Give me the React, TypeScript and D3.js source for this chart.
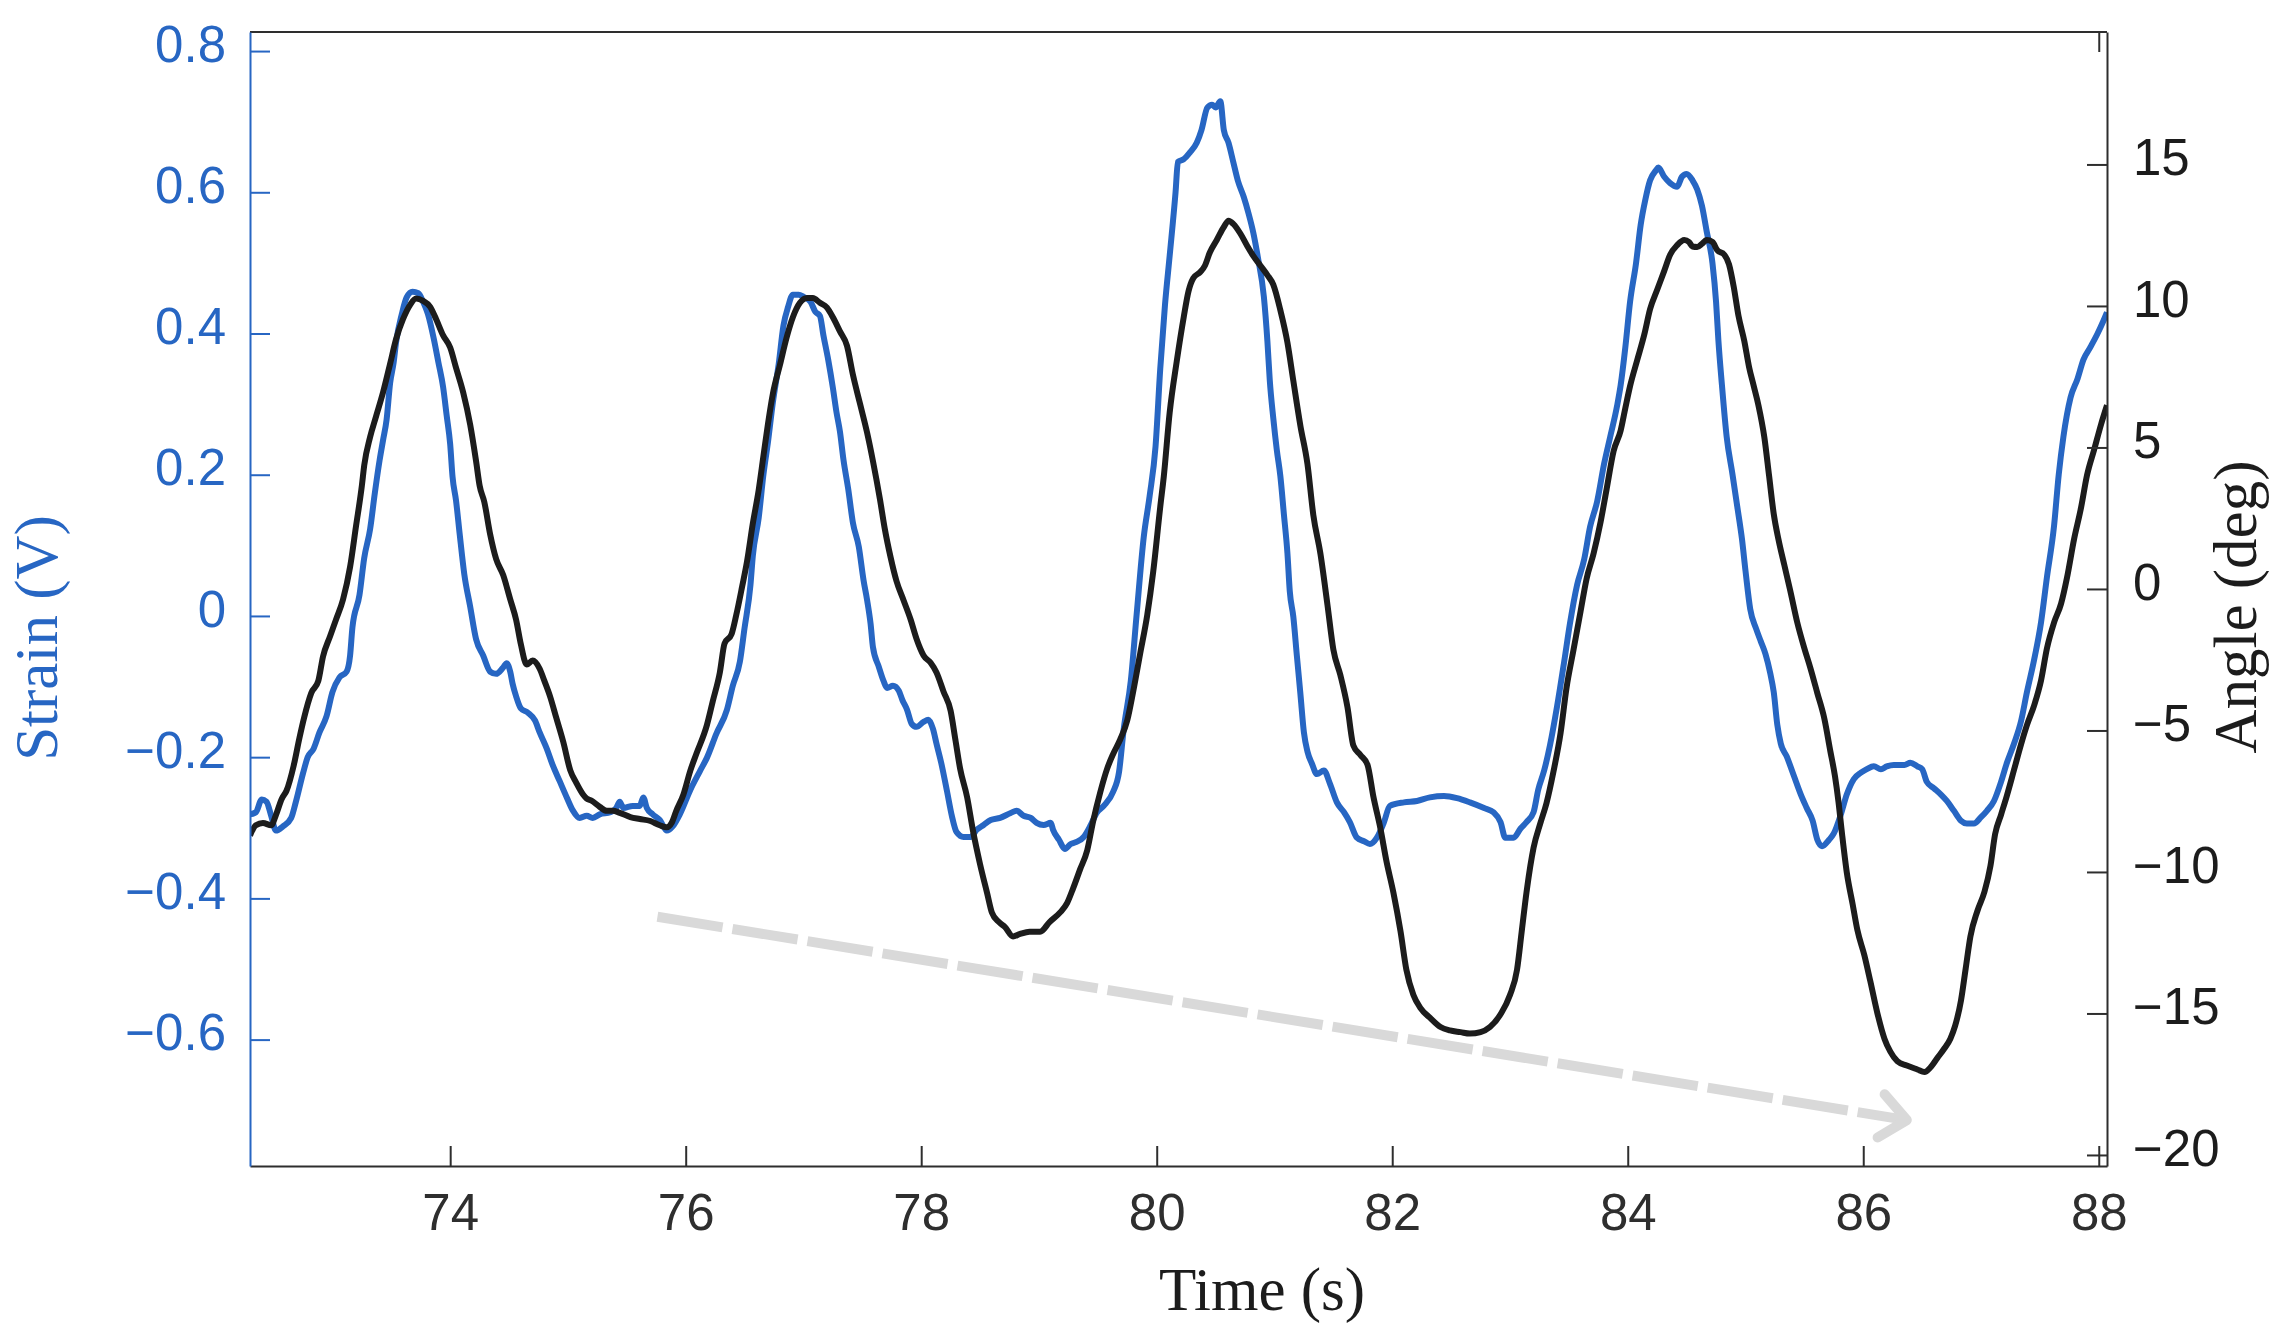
import { useEffect, useRef } from 'react'
import * as d3 from 'd3'

// strain gauge output (V) against time (s)
const strainTrace: [number, number][] = [
  [72.30, -0.281], [72.35, -0.278], [72.40, -0.260], [72.44, -0.263], [72.48, -0.283],
  [72.52, -0.304], [72.58, -0.298], [72.65, -0.286], [72.69, -0.263], [72.75, -0.223],
  [72.79, -0.200], [72.84, -0.188], [72.89, -0.165], [72.95, -0.142], [73.00, -0.108],
  [73.06, -0.087], [73.12, -0.079], [73.15, -0.056], [73.17, -0.016], [73.23, 0.030],
  [73.27, 0.082], [73.32, 0.123], [73.36, 0.174], [73.40, 0.220], [73.43, 0.249],
  [73.46, 0.278], [73.49, 0.330], [73.52, 0.359], [73.54, 0.387], [73.59, 0.428],
  [73.63, 0.451], [73.68, 0.459], [73.73, 0.457], [73.77, 0.445], [73.81, 0.428],
  [73.86, 0.393], [73.90, 0.359], [73.94, 0.324], [73.97, 0.284], [74.00, 0.243],
  [74.02, 0.197], [74.05, 0.163], [74.08, 0.117], [74.12, 0.059], [74.17, 0.013],
  [74.22, -0.033], [74.28, -0.056], [74.34, -0.079], [74.39, -0.082], [74.45, -0.073],
  [74.48, -0.067], [74.51, -0.079], [74.53, -0.096], [74.56, -0.114], [74.60, -0.131],
  [74.66, -0.137], [74.72, -0.148], [74.76, -0.165], [74.82, -0.188], [74.87, -0.211],
  [74.93, -0.234], [74.99, -0.257], [75.04, -0.275], [75.10, -0.286], [75.16, -0.283],
  [75.21, -0.286], [75.27, -0.281], [75.36, -0.278], [75.41, -0.272], [75.44, -0.263],
  [75.47, -0.272], [75.55, -0.269], [75.61, -0.269], [75.64, -0.257], [75.67, -0.272],
  [75.72, -0.281], [75.78, -0.289], [75.84, -0.304], [75.89, -0.298], [75.95, -0.281],
  [76.04, -0.246], [76.12, -0.220], [76.18, -0.201], [76.26, -0.167], [76.35, -0.133],
  [76.40, -0.099], [76.46, -0.065], [76.50, -0.017], [76.55, 0.044], [76.57, 0.085],
  [76.62, 0.139], [76.66, 0.200], [76.70, 0.248], [76.74, 0.302], [76.79, 0.357],
  [76.83, 0.411], [76.87, 0.438], [76.91, 0.455], [76.96, 0.455], [77.00, 0.452],
  [77.06, 0.445], [77.10, 0.431], [77.14, 0.425], [77.17, 0.397], [77.21, 0.363],
  [77.25, 0.323], [77.28, 0.289], [77.31, 0.261], [77.34, 0.221], [77.38, 0.180],
  [77.42, 0.132], [77.47, 0.098], [77.51, 0.051], [77.54, 0.023], [77.57, -0.011],
  [77.59, -0.044], [77.64, -0.072], [77.68, -0.092], [77.71, -0.102], [77.76, -0.099],
  [77.81, -0.106], [77.84, -0.119], [77.88, -0.133], [77.92, -0.153], [77.96, -0.157],
  [78.02, -0.150], [78.06, -0.147], [78.10, -0.160], [78.13, -0.181], [78.17, -0.208],
  [78.22, -0.249], [78.26, -0.283], [78.30, -0.306], [78.36, -0.313], [78.42, -0.313],
  [78.47, -0.303], [78.53, -0.296], [78.59, -0.289], [78.67, -0.286], [78.76, -0.279],
  [78.81, -0.276], [78.87, -0.283], [78.93, -0.286], [78.98, -0.293], [79.04, -0.296],
  [79.10, -0.293], [79.12, -0.303], [79.17, -0.317], [79.22, -0.330], [79.27, -0.323],
  [79.32, -0.320], [79.38, -0.313], [79.44, -0.296], [79.49, -0.279], [79.55, -0.269],
  [79.63, -0.249], [79.68, -0.221], [79.72, -0.160], [79.78, -0.092], [79.83, 0.003],
  [79.89, 0.112], [79.94, 0.170], [79.99, 0.240], [80.03, 0.350], [80.07, 0.440],
  [80.11, 0.510], [80.16, 0.600], [80.18, 0.643], [80.23, 0.647], [80.28, 0.656],
  [80.34, 0.670], [80.38, 0.688], [80.43, 0.720], [80.47, 0.724], [80.50, 0.720],
  [80.54, 0.729], [80.57, 0.688], [80.61, 0.670], [80.65, 0.643], [80.69, 0.616],
  [80.74, 0.593], [80.78, 0.570], [80.82, 0.543], [80.86, 0.507], [80.91, 0.452],
  [80.94, 0.389], [80.96, 0.334], [80.99, 0.280], [81.02, 0.235], [81.05, 0.198],
  [81.08, 0.144], [81.11, 0.089], [81.13, 0.035], [81.16, -0.001], [81.19, -0.056],
  [81.22, -0.110], [81.25, -0.165], [81.28, -0.192], [81.32, -0.210], [81.36, -0.224],
  [81.42, -0.219], [81.47, -0.237], [81.53, -0.264], [81.59, -0.278], [81.64, -0.292],
  [81.70, -0.314], [81.76, -0.319], [81.81, -0.323], [81.87, -0.314], [81.93, -0.292],
  [81.98, -0.269], [82.10, -0.264], [82.21, -0.262], [82.32, -0.257], [82.44, -0.255],
  [82.55, -0.258], [82.66, -0.264], [82.78, -0.272], [82.86, -0.278], [82.92, -0.292],
  [82.96, -0.314], [83.03, -0.314], [83.09, -0.301], [83.14, -0.292], [83.20, -0.278],
  [83.24, -0.246], [83.29, -0.219], [83.34, -0.183], [83.40, -0.128], [83.46, -0.065],
  [83.51, -0.010], [83.57, 0.044], [83.63, 0.080], [83.68, 0.126], [83.74, 0.162],
  [83.80, 0.216], [83.85, 0.253], [83.91, 0.298], [83.94, 0.327], [83.98, 0.381],
  [84.02, 0.445], [84.07, 0.499], [84.11, 0.554], [84.15, 0.590], [84.19, 0.617],
  [84.24, 0.631], [84.26, 0.635], [84.31, 0.622], [84.36, 0.613], [84.42, 0.608],
  [84.46, 0.622], [84.50, 0.626], [84.55, 0.617], [84.59, 0.604], [84.63, 0.581],
  [84.67, 0.545], [84.72, 0.499], [84.75, 0.445], [84.77, 0.390], [84.80, 0.327],
  [84.84, 0.254], [84.89, 0.200], [84.93, 0.155], [84.97, 0.109], [85.00, 0.064],
  [85.04, 0.010], [85.09, -0.018], [85.13, -0.036], [85.17, -0.054], [85.21, -0.081],
  [85.24, -0.108], [85.27, -0.154], [85.30, -0.181], [85.35, -0.199], [85.41, -0.226],
  [85.47, -0.253], [85.52, -0.272], [85.57, -0.290], [85.61, -0.317], [85.65, -0.326],
  [85.71, -0.317], [85.75, -0.308], [85.81, -0.281], [85.86, -0.253], [85.92, -0.231],
  [85.98, -0.222], [86.03, -0.217], [86.09, -0.213], [86.15, -0.217], [86.20, -0.213],
  [86.26, -0.211], [86.35, -0.211], [86.40, -0.208], [86.46, -0.213], [86.50, -0.217],
  [86.54, -0.235], [86.60, -0.244], [86.66, -0.253], [86.71, -0.262], [86.77, -0.276],
  [86.83, -0.290], [86.88, -0.294], [86.94, -0.294], [87.00, -0.285], [87.05, -0.276],
  [87.11, -0.262], [87.17, -0.235], [87.22, -0.208], [87.28, -0.181], [87.34, -0.149],
  [87.39, -0.108], [87.45, -0.063], [87.51, -0.009], [87.56, 0.055], [87.62, 0.127],
  [87.66, 0.200], [87.70, 0.254], [87.76, 0.309], [87.82, 0.336], [87.87, 0.363],
  [87.93, 0.381], [87.99, 0.400], [88.04, 0.418], [88.07, 0.430],
]

// joint angle (deg) against time (s)
const angleTrace: [number, number][] = [
  [72.30, -8.71], [72.35, -8.35], [72.41, -8.27], [72.48, -8.35], [72.52, -7.99],
  [72.57, -7.41], [72.61, -7.13], [72.67, -6.26], [72.72, -5.26], [72.76, -4.54],
  [72.82, -3.68], [72.88, -3.25], [72.92, -2.39], [72.98, -1.67], [73.03, -1.09],
  [73.09, -0.37], [73.15, 0.78], [73.20, 2.21], [73.25, 3.65], [73.27, 4.37],
  [73.32, 5.37], [73.37, 6.09], [73.43, 6.95], [73.49, 7.96], [73.54, 8.82],
  [73.60, 9.54], [73.66, 10.04], [73.71, 10.26], [73.77, 10.18], [73.83, 9.97],
  [73.88, 9.54], [73.94, 8.96], [74.00, 8.53], [74.05, 7.81], [74.11, 6.95],
  [74.17, 5.80], [74.22, 4.51], [74.25, 3.65], [74.29, 3.07], [74.34, 1.92],
  [74.39, 1.06], [74.45, 0.49], [74.51, -0.37], [74.56, -1.09], [74.60, -1.95],
  [74.65, -2.67], [74.70, -2.53], [74.76, -2.82], [74.80, -3.25], [74.85, -3.82],
  [74.90, -4.54], [74.96, -5.40], [75.02, -6.41], [75.07, -6.84], [75.13, -7.27],
  [75.16, -7.41], [75.20, -7.48], [75.27, -7.70], [75.33, -7.84], [75.38, -7.84],
  [75.44, -7.91], [75.53, -8.06], [75.61, -8.13], [75.70, -8.20], [75.78, -8.35],
  [75.84, -8.42], [75.88, -8.27], [75.92, -7.84], [75.98, -7.27], [76.04, -6.41],
  [76.09, -5.83], [76.18, -4.81], [76.23, -3.97], [76.29, -2.95], [76.33, -1.93],
  [76.39, -1.59], [76.43, -0.91], [76.48, 0.10], [76.52, 0.95], [76.57, 2.31],
  [76.62, 3.50], [76.66, 4.69], [76.70, 5.87], [76.74, 6.89], [76.80, 7.91],
  [76.86, 8.93], [76.91, 9.60], [76.97, 10.11], [77.03, 10.28], [77.08, 10.28],
  [77.14, 10.11], [77.20, 9.94], [77.25, 9.60], [77.31, 9.10], [77.37, 8.59],
  [77.42, 7.57], [77.48, 6.55], [77.54, 5.53], [77.59, 4.52], [77.65, 3.16],
  [77.69, 2.14], [77.74, 1.12], [77.79, 0.28], [77.85, -0.40], [77.91, -1.08],
  [77.96, -1.76], [78.02, -2.35], [78.08, -2.61], [78.13, -2.95], [78.19, -3.63],
  [78.25, -4.31], [78.29, -5.32], [78.33, -6.34], [78.39, -7.36], [78.44, -8.55],
  [78.50, -9.73], [78.56, -10.75], [78.60, -11.43], [78.66, -11.77], [78.71, -11.94],
  [78.78, -12.28], [78.84, -12.19], [78.92, -12.11], [79.01, -12.11], [79.09, -11.77],
  [79.18, -11.43], [79.24, -11.09], [79.29, -10.58], [79.35, -9.90], [79.41, -9.23],
  [79.46, -8.21], [79.52, -7.19], [79.58, -6.34], [79.63, -5.83], [79.69, -5.32],
  [79.75, -4.64], [79.80, -3.63], [79.86, -2.27], [79.92, -0.91], [79.97, 0.60],
  [80.03, 2.90], [80.06, 3.97], [80.11, 6.23], [80.17, 8.04], [80.23, 9.62],
  [80.27, 10.52], [80.31, 10.98], [80.37, 11.20], [80.41, 11.43], [80.45, 11.88],
  [80.51, 12.33], [80.57, 12.79], [80.61, 13.01], [80.65, 12.90], [80.71, 12.56],
  [80.77, 12.11], [80.82, 11.77], [80.88, 11.43], [80.94, 11.09], [80.99, 10.75],
  [81.05, 9.85], [81.11, 8.71], [81.16, 7.36], [81.22, 5.77], [81.28, 4.42],
  [81.33, 2.61], [81.39, 1.25], [81.45, -0.56], [81.50, -2.14], [81.56, -3.05],
  [81.62, -4.18], [81.67, -5.53], [81.73, -5.87], [81.79, -6.21], [81.84, -7.34],
  [81.90, -8.47], [81.95, -9.60], [82.01, -10.73], [82.07, -12.09], [82.12, -13.45],
  [82.18, -14.35], [82.24, -14.81], [82.32, -15.15], [82.41, -15.48], [82.49, -15.60],
  [82.58, -15.66], [82.66, -15.71], [82.75, -15.66], [82.83, -15.48], [82.92, -15.03],
  [83.00, -14.35], [83.06, -13.45], [83.10, -12.09], [83.14, -10.73], [83.20, -9.15],
  [83.26, -8.25], [83.31, -7.57], [83.37, -6.44], [83.43, -5.08], [83.48, -3.50],
  [83.54, -2.14], [83.60, -0.78], [83.65, 0.35], [83.71, 1.25], [83.77, 2.38],
  [83.82, 3.51], [83.88, 4.87], [83.94, 5.60], [83.98, 6.40], [84.02, 7.17],
  [84.08, 8.08], [84.14, 8.98], [84.19, 9.89], [84.25, 10.57], [84.31, 11.24],
  [84.36, 11.81], [84.42, 12.15], [84.48, 12.33], [84.52, 12.26], [84.55, 12.10],
  [84.59, 12.08], [84.63, 12.19], [84.67, 12.33], [84.72, 12.26], [84.76, 11.97],
  [84.82, 11.81], [84.86, 11.47], [84.90, 10.68], [84.94, 9.66], [84.99, 8.76],
  [85.03, 7.85], [85.07, 7.17], [85.11, 6.49], [85.16, 5.36], [85.20, 4.01],
  [85.24, 2.65], [85.28, 1.75], [85.33, 0.84], [85.38, -0.06], [85.44, -1.19],
  [85.50, -2.10], [85.55, -2.78], [85.61, -3.68], [85.67, -4.59], [85.72, -5.72],
  [85.76, -6.62], [85.79, -7.53], [85.82, -8.66], [85.86, -10.01], [85.91, -11.14],
  [85.95, -12.05], [86.01, -12.95], [86.06, -13.86], [86.12, -14.99], [86.18, -15.89],
  [86.23, -16.35], [86.29, -16.69], [86.37, -16.84], [86.46, -16.98], [86.52, -17.07],
  [86.57, -16.91], [86.63, -16.57], [86.69, -16.23], [86.74, -15.89], [86.78, -15.44],
  [86.83, -14.54], [86.87, -13.41], [86.91, -12.28], [86.97, -11.37], [87.03, -10.69],
  [87.08, -9.79], [87.12, -8.66], [87.17, -7.98], [87.22, -7.30], [87.28, -6.40],
  [87.34, -5.49], [87.39, -4.81], [87.45, -4.13], [87.51, -3.23], [87.56, -2.10],
  [87.62, -1.19], [87.68, -0.52], [87.73, 0.39], [87.79, 1.75], [87.85, 2.88],
  [87.90, 4.01], [87.96, 4.91], [88.02, 5.82], [88.07, 6.49],
]

const timeTicks = [74, 76, 78, 80, 82, 84, 86, 88]
const strainTicks = [-0.6, -0.4, -0.2, 0, 0.2, 0.4, 0.6, 0.8]
const angleTicks = [-20, -15, -10, -5, 0, 5, 10, 15]

const timeRange: [number, number] = [72.3, 88.07]
const strainRange: [number, number] = [-0.779, 0.827]
const angleRange: [number, number] = [-20.39, 19.68]

// growing trough depth, drawn in (time, strain) units
const trendArrow = { from: [75.76, -0.426], to: [86.37, -0.714] }

const width = 2293
const height = 1339
const margin = { top: 32, right: 186, bottom: 173, left: 250 }

const blue = '#2766c3'
const ink = '#1c1c1c'
const axisGrey = '#2e2e2e'
const sans = '"Liberation Sans", Arial, Helvetica, sans-serif'
const serif = '"Liberation Serif", "Times New Roman", serif'

const signed = (d: number) => (d < 0 ? '\u2212' + Math.abs(d) : String(d))

export default function App() {
  const svgRef = useRef<SVGSVGElement>(null)

  useEffect(() => {
    if (!svgRef.current) return

    const svg = d3.select(svgRef.current)
    svg.selectAll('*').remove()

    const innerWidth = width - margin.left - margin.right
    const innerHeight = height - margin.top - margin.bottom

    const x = d3.scaleLinear().domain(timeRange).range([0, innerWidth])
    const yStrain = d3.scaleLinear().domain(strainRange).range([innerHeight, 0])
    const yAngle = d3.scaleLinear().domain(angleRange).range([innerHeight, 0])

    const g = svg.append('g')
      .attr('transform', `translate(${margin.left},${margin.top})`)

    g.append('clipPath')
      .attr('id', 'plot-area')
      .append('rect')
      .attr('width', innerWidth)
      .attr('height', innerHeight)

    // dashed trend arrow
    const [ax0, ay0] = [x(trendArrow.from[0]), yStrain(trendArrow.from[1])]
    const [ax1, ay1] = [x(trendArrow.to[0]), yStrain(trendArrow.to[1])]
    g.append('line')
      .attr('x1', ax0).attr('y1', ay0)
      .attr('x2', ax1).attr('y2', ay1)
      .attr('stroke', '#d9d9d9')
      .attr('stroke-width', 10)
      .attr('stroke-dasharray', '66 10')

    const dir = Math.atan2(ay1 - ay0, ax1 - ax0)
    const armLen = 34
    const spread = (40 * Math.PI) / 180
    const head = [dir + Math.PI - spread, dir, dir + Math.PI + spread]
    const headPath = d3.path()
    headPath.moveTo(ax1 + armLen * Math.cos(head[0]), ay1 + armLen * Math.sin(head[0]))
    headPath.lineTo(ax1, ay1)
    headPath.lineTo(ax1 + armLen * Math.cos(head[2]), ay1 + armLen * Math.sin(head[2]))
    g.append('path')
      .attr('d', headPath.toString())
      .attr('fill', 'none')
      .attr('stroke', '#d9d9d9')
      .attr('stroke-width', 10)
      .attr('stroke-linecap', 'round')
      .attr('stroke-linejoin', 'round')

    const lines = g.append('g').attr('clip-path', 'url(#plot-area)')

    const strainLine = d3.line<[number, number]>()
      .x(d => x(d[0]))
      .y(d => yStrain(d[1]))
      .curve(d3.curveMonotoneX)

    const angleLine = d3.line<[number, number]>()
      .x(d => x(d[0]))
      .y(d => yAngle(d[1]))
      .curve(d3.curveMonotoneX)

    lines.append('path')
      .datum(strainTrace)
      .attr('d', strainLine)
      .attr('fill', 'none')
      .attr('stroke', blue)
      .attr('stroke-width', 6)
      .attr('stroke-linejoin', 'round')

    lines.append('path')
      .datum(angleTrace)
      .attr('d', angleLine)
      .attr('fill', 'none')
      .attr('stroke', ink)
      .attr('stroke-width', 6)
      .attr('stroke-linejoin', 'round')

    const styleAxis = (sel: d3.Selection<SVGGElement, unknown, null, undefined>, color: string) => {
      sel.attr('font-size', 51).attr('font-family', sans)
      sel.select('.domain').attr('stroke', color).attr('stroke-width', 2)
      sel.selectAll('.tick line').attr('stroke', color).attr('stroke-width', 2)
      sel.selectAll('.tick text').attr('fill', color)
    }

    // top edge of the box
    g.append('line')
      .attr('x1', 0).attr('x2', innerWidth)
      .attr('y1', 0).attr('y2', 0)
      .attr('stroke', axisGrey)
      .attr('stroke-width', 2)

    const topAxis = g.append('g')
      .call(d3.axisTop(x).tickValues(timeTicks.slice(-1)).tickSize(-20).tickFormat(() => ''))
    topAxis.select('.domain').remove()
    topAxis.selectAll('.tick line').attr('stroke', axisGrey).attr('stroke-width', 2)

    const xAxis = g.append('g')
      .attr('transform', `translate(0,${innerHeight})`)
      .call(d3.axisBottom(x).tickValues(timeTicks).tickSizeInner(-20).tickSizeOuter(0).tickPadding(28))
    styleAxis(xAxis, axisGrey)

    const leftAxis = g.append('g')
      .call(d3.axisLeft(yStrain).tickValues(strainTicks).tickSizeInner(-20).tickSizeOuter(0)
        .tickPadding(24).tickFormat(d => signed(+d)))
    styleAxis(leftAxis, blue)
    leftAxis.selectAll('.tick text').attr('dy', '0.2em')

    const rightAxis = g.append('g')
      .attr('transform', `translate(${innerWidth},0)`)
      .call(d3.axisRight(yAngle).tickValues(angleTicks).tickSizeInner(-20).tickSizeOuter(0)
        .tickPadding(26).tickFormat(d => signed(+d)))
    styleAxis(rightAxis, axisGrey)
    rightAxis.selectAll('.tick text').attr('dy', '0.2em').attr('fill', ink)

    // axis titles
    svg.append('text')
      .attr('x', 1262)
      .attr('y', 1310)
      .attr('text-anchor', 'middle')
      .attr('font-family', serif)
      .attr('font-size', 61)
      .attr('fill', ink)
      .text('Time (s)')

    svg.append('text')
      .attr('transform', 'translate(57,638) rotate(-90)')
      .attr('text-anchor', 'middle')
      .attr('font-family', serif)
      .attr('font-size', 61)
      .attr('fill', blue)
      .text('Strain (V)')

    svg.append('text')
      .attr('transform', 'translate(2256,607) rotate(-90)')
      .attr('text-anchor', 'middle')
      .attr('font-family', serif)
      .attr('font-size', 61)
      .attr('fill', ink)
      .text('Angle (deg)')
  }, [])

  return (
    <svg
      ref={svgRef}
      width={width}
      height={height}
      style={{ position: 'absolute', left: 0, top: 0, background: '#fff', display: 'block' }}
    />
  )
}
